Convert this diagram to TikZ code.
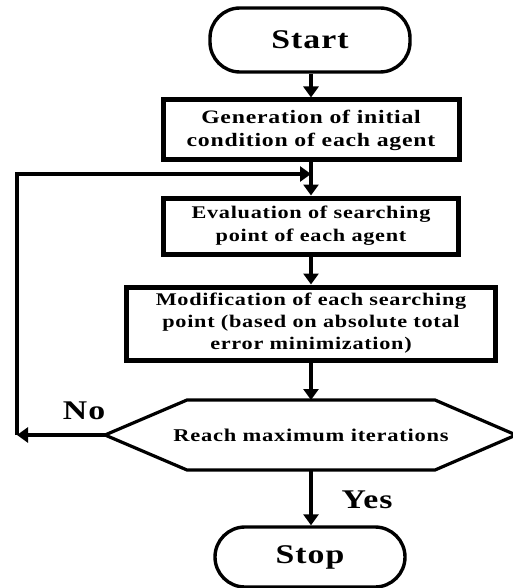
\documentclass[tikz,border=0pt]{standalone}
\usepackage{fontspec}
\setmainfont{Liberation Serif}[FakeStretch=1.25,LetterSpace=4]
\usetikzlibrary{arrows.meta}
\begin{document}
\begin{tikzpicture}[x=1pt,y=-1pt,
  box/.style={draw, line width=5pt, align=center, inner sep=0pt,
    font=\fontsize{19}{23}\selectfont\bfseries},
  term/.style={draw, line width=3.4pt, inner sep=0pt, rounded corners=30pt,
    font=\fontsize{27}{30}\selectfont\bfseries},
  lab/.style={font=\fontsize{27}{30}\selectfont\bfseries},
  arr/.style={line width=4.5pt, -{Triangle[width=15pt,length=11pt]}}]
\useasboundingbox (0,0) rectangle (513,588);
\node[term, minimum width=200pt, minimum height=64pt] (start) at (310,40) {Start};
\node[box, minimum width=296pt, minimum height=60pt] (gen) at (311,130)
  {Generation of initial\\condition of each agent};
\node[box, minimum width=295pt, minimum height=56pt, font=\fontsize{17.8}{23}\selectfont\bfseries] (eval) at (311,226)
  {Evaluation of searching\\point of each agent};
\node[box, minimum width=369pt, minimum height=73pt, font=\fontsize{17.8}{22}\selectfont\bfseries] (mod) at (311,323.5)
  {Modification of each searching\\point (based on absolute total\\error minimization)};
\coordinate (hW) at (105,435);
\coordinate (hE) at (516,435);
\draw[line width=3.2pt, line join=miter] (hW) -- (187,400) -- (435,400) -- (hE) -- (435,470) -- (187,470) -- cycle;
\node[font=\fontsize{18}{21}\selectfont\bfseries] (hex) at (311,435) {Reach maximum iterations};
\coordinate (hN) at (311,400);
\coordinate (hS) at (311,470);
\node[term, minimum width=190pt, minimum height=60pt] (stop) at (310,557) {Stop};
\coordinate (junc) at (311,174);
\coordinate (lb) at (17,435);
\coordinate (lt) at (17,174);
\draw[arr] (start.south -| gen.north) -- (gen.north);
\draw[arr] (gen.south) -- (eval.north);
\draw[arr] (eval.south) -- (mod.north);
\draw[arr] (mod.south) -- (hN);
\draw[arr] (hS) -- (stop.north -| hS);
\draw[arr] (hW) -- (lb);
\draw[arr, line join=miter] (lb) -- (lt) -- (junc);
\node[lab] (no) at (84,411) {No};
\node[lab] (yes) at (367,500) {Yes};
\end{tikzpicture}
\end{document}
